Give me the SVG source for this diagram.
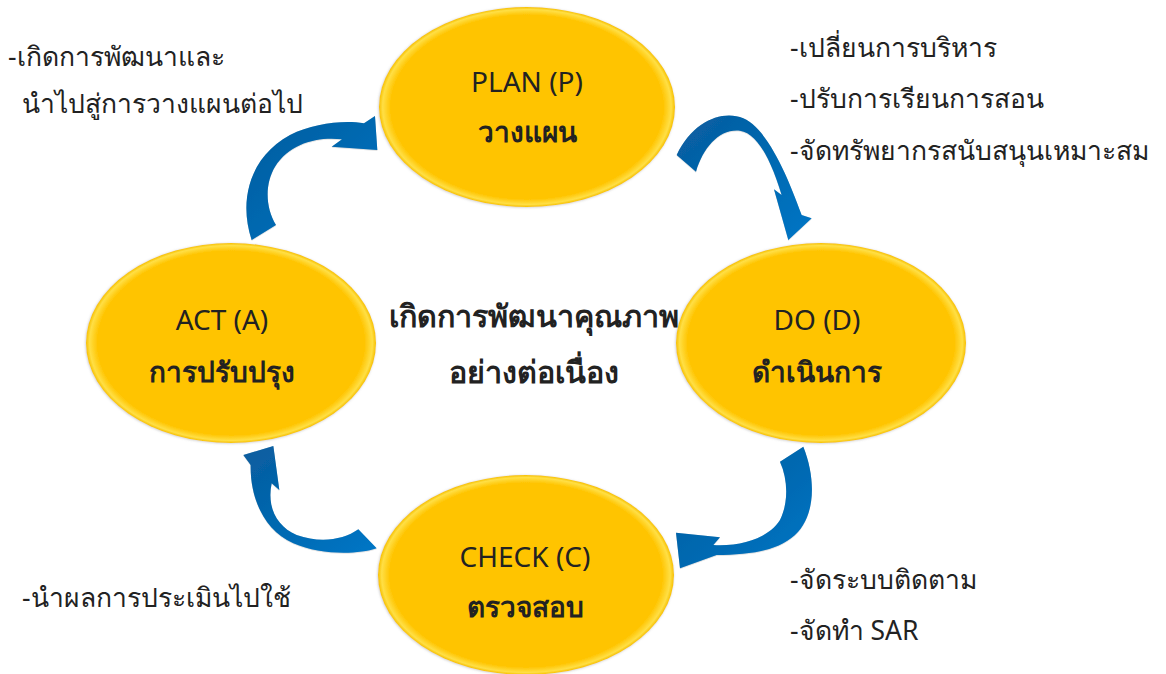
<svg xmlns="http://www.w3.org/2000/svg" width="1166" height="674" viewBox="0 0 1166 674">
<defs>
<radialGradient id="gold" cx="0.5" cy="0.5" r="0.5">
<stop offset="0" stop-color="#FFC400"/>
<stop offset="0.92" stop-color="#FFC400"/>
<stop offset="0.975" stop-color="#FFDF45"/>
<stop offset="1" stop-color="#F7C000"/>
</radialGradient>
<linearGradient id="blue" x1="0" y1="0" x2="1" y2="1">
<stop offset="0" stop-color="#0A5C9E"/>
<stop offset="0.5" stop-color="#0068B0"/>
<stop offset="1" stop-color="#0076C6"/>
</linearGradient>
<filter id="sh" x="-10%" y="-10%" width="120%" height="120%">
<feDropShadow dx="0" dy="1" stdDeviation="1.2" flood-color="#000" flood-opacity="0.35"/>
</filter>
<filter id="esh" x="-5%" y="-5%" width="110%" height="110%">
<feDropShadow dx="-0.5" dy="0.5" stdDeviation="0.8" flood-color="#888" flood-opacity="0.45"/>
</filter>
</defs>
<style>
.node{fill:url(#gold);filter:url(#esh)}
.arr{fill:url(#blue);filter:url(#sh)}
text{font-family:"Noto Sans","DejaVu Sans",sans-serif;fill:#222}
.en{font-size:28px;text-anchor:middle}
.th{font-size:28px;font-weight:bold;text-anchor:middle}
.mid{font-size:30.5px;font-weight:bold;text-anchor:middle}
.side{font-size:26.5px}
</style>
<rect width="1166" height="674" fill="#fff"/>
<g id="connectors">
<path class="arr" transform="translate(660,100) scale(0.3333)" d="M50,165 C100,60 190,30 250,55 C320,85 380,220 425,345 L455,355 L385,420 L342,268 L365,285 C330,170 290,100 240,92 C180,85 130,140 108,215 Z"/>
<path class="arr" transform="translate(230,100) scale(0.3333)" d="M65,420 C25,300 60,170 180,105 C250,70 340,60 402,70 L435,48 L442,150 L305,140 L336,118 C260,110 180,130 135,200 C105,250 105,320 138,375 Z"/>
<path class="arr" transform="translate(660,440) scale(0.3333)" d="M360,65 L430,20 C470,120 465,230 405,285 C350,335 260,345 170,345 L60,385 L48,278 L180,292 L160,315 C250,320 330,290 360,240 C385,190 385,120 360,65 Z"/>
<path class="arr" transform="translate(230,440) scale(0.3333)" d="M40,45 L130,18 L148,150 L125,130 C110,200 140,260 200,285 C270,310 340,300 385,268 L440,325 C380,345 270,345 190,310 C100,270 60,170 62,75 Z"/>
</g>
<g id="plan">
<ellipse class="node" cx="527" cy="107" rx="148" ry="100"/>
<text class="en" x="527" y="92">PLAN (P)</text>
<text class="th" x="527" y="142">วางแผน</text>
</g>
<g id="do">
<ellipse class="node" cx="821" cy="343" rx="145" ry="100"/>
<text class="en" x="817" y="330">DO (D)</text>
<text class="th" x="817" y="382">ดำเนินการ</text>
</g>
<g id="check">
<ellipse class="node" cx="526" cy="575" rx="148" ry="100"/>
<text class="en" x="525" y="567">CHECK (C)</text>
<text class="th" x="525" y="617">ตรวจสอบ</text>
</g>
<g id="act">
<ellipse class="node" cx="231" cy="343" rx="145" ry="100"/>
<text class="en" x="222" y="330">ACT (A)</text>
<text class="th" x="222" y="382">การปรับปรุง</text>
</g>
<g id="center">
<text class="mid" x="534" y="327">เกิดการพัฒนาคุณภาพ</text>
<text class="mid" x="534" y="383">อย่างต่อเนื่อง</text>
</g>
<g id="notes">
<text class="side" x="8" y="66">-เกิดการพัฒนาและ</text>
<text class="side" x="22" y="113">นำไปสู่การวางแผนต่อไป</text>
<text class="side" x="790" y="57">-เปลี่ยนการบริหาร</text>
<text class="side" x="790" y="108">-ปรับการเรียนการสอน</text>
<text class="side" x="790" y="160">-จัดทรัพยากรสนับสนุนเหมาะสม</text>
<text class="side" x="22" y="607">-นำผลการประเมินไปใช้</text>
<text class="side" x="790" y="589">-จัดระบบติดตาม</text>
<text class="side" x="790" y="640">-จัดทำ SAR</text>
</g>
</svg>
